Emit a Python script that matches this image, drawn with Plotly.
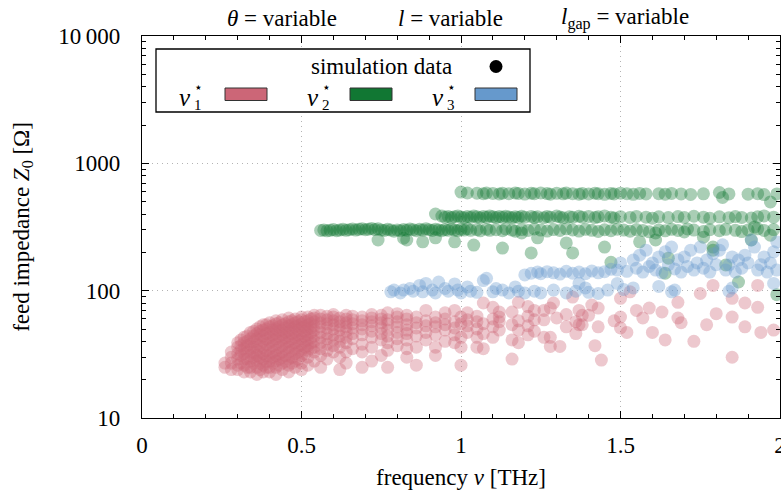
import plotly.graph_objects as go

# ---------------- data ----------------
# nu_1* resonance: frequency [THz] and feed impedance [Ohm]
red_freq = [
    0.26, 0.26,
    0.28, 0.28, 0.28, 0.28,
    0.30, 0.30, 0.30, 0.30, 0.30, 0.30,
    0.32, 0.32, 0.32, 0.32, 0.32, 0.32, 0.32,
    0.34, 0.34, 0.34, 0.34, 0.34, 0.34, 0.34, 0.34,
    0.36, 0.36, 0.36, 0.36, 0.36, 0.36, 0.36, 0.36, 0.36,
    0.38, 0.38, 0.38, 0.38, 0.38, 0.38, 0.38, 0.38, 0.38,
    0.40, 0.40, 0.40, 0.40, 0.40, 0.40, 0.40, 0.40, 0.40, 0.40,
    0.42, 0.42, 0.42, 0.42, 0.42, 0.42, 0.42, 0.42, 0.42, 0.42, 0.42,
    0.44, 0.44, 0.44, 0.44, 0.44, 0.44, 0.44, 0.44, 0.44, 0.44,
    0.46, 0.46, 0.46, 0.46, 0.46, 0.46, 0.46, 0.46, 0.46, 0.46, 0.46,
    0.48, 0.48, 0.48, 0.48, 0.48, 0.48, 0.48, 0.48, 0.48, 0.48,
    0.50, 0.50, 0.50, 0.50, 0.50, 0.50, 0.50, 0.50, 0.50, 0.50, 0.50,
    0.52, 0.52, 0.52, 0.52, 0.52, 0.52, 0.52, 0.52, 0.52, 0.52,
    0.54, 0.54, 0.54, 0.54, 0.54, 0.54, 0.54, 0.54, 0.54, 0.54,
    0.56, 0.56, 0.56, 0.56, 0.56, 0.56, 0.56, 0.56, 0.56, 0.56,
    0.58, 0.58, 0.58, 0.58, 0.58, 0.58, 0.58, 0.58, 0.58,
    0.60, 0.60, 0.60, 0.60, 0.60, 0.60, 0.60, 0.60, 0.60,
    0.62, 0.62, 0.62, 0.62, 0.62, 0.62, 0.62, 0.62, 0.62,
    0.64, 0.64, 0.64, 0.64, 0.64, 0.64, 0.64, 0.64, 0.64,
    0.66, 0.66, 0.66, 0.66, 0.66, 0.66, 0.66,
    0.69, 0.69, 0.69, 0.69, 0.69, 0.69, 0.69, 0.69,
    0.72, 0.72, 0.72, 0.72, 0.72, 0.72, 0.72, 0.72,
    0.75, 0.75, 0.75, 0.75, 0.75, 0.75, 0.75,
    0.77, 0.77, 0.77, 0.77, 0.77, 0.77, 0.77, 0.77,
    0.80, 0.80, 0.80, 0.80, 0.80, 0.80, 0.80,
    0.83, 0.83, 0.83, 0.83, 0.83, 0.83, 0.83, 0.83,
    0.86, 0.86, 0.86, 0.86, 0.86, 0.86,
    0.89, 0.89, 0.89, 0.89, 0.89,
    0.92, 0.92, 0.92, 0.92, 0.92, 0.92,
    0.95, 0.95, 0.95, 0.95, 0.95,
    0.98, 0.98, 0.98, 0.98, 0.98,
    1.00, 1.00, 1.00, 1.00, 1.00,
    1.02, 1.02, 1.02, 1.02,
    1.05, 1.05, 1.05, 1.05, 1.05,
    1.07, 1.07, 1.07, 1.07,
    1.10, 1.10, 1.10, 1.10,
    1.12, 1.12, 1.12, 1.12,
    1.16, 1.16, 1.16, 1.16,
    1.18, 1.18, 1.18, 1.18,
    1.21, 1.21, 1.21, 1.21,
    1.23, 1.23, 1.23,
    1.26, 1.26, 1.26,
    1.28, 1.28, 1.28, 1.29, 1.30, 1.31,
    1.33, 1.33, 1.35, 1.36, 1.36, 1.37, 1.37, 1.38, 1.38,
    1.40, 1.41, 1.42, 1.43, 1.43, 1.44, 1.48,
    1.50, 1.50, 1.50, 1.52, 1.53, 1.55, 1.57, 1.59, 1.60,
    1.63, 1.64, 1.68, 1.68, 1.69, 1.73, 1.75, 1.77, 1.79, 1.80,
    1.85, 1.85, 1.85, 1.89, 1.89, 1.93, 1.93, 1.94, 1.98,
    # dense core, intermediate geometries
    0.31, 0.31, 0.31, 0.31, 0.31,
    0.33, 0.33, 0.33, 0.33, 0.33, 0.33,
    0.35, 0.35, 0.35, 0.35, 0.35, 0.35, 0.35,
    0.37, 0.37, 0.37, 0.37, 0.37, 0.37, 0.37, 0.37, 0.37,
    0.39, 0.39, 0.39, 0.39, 0.39, 0.39, 0.39, 0.39, 0.39,
    0.41, 0.41, 0.41, 0.41, 0.41, 0.41, 0.41, 0.41,
    0.43, 0.43, 0.43, 0.43, 0.43, 0.43, 0.43, 0.43, 0.43,
    0.45, 0.45, 0.45, 0.45, 0.45, 0.45, 0.45, 0.45,
    0.47, 0.47, 0.47, 0.47, 0.47, 0.47, 0.47, 0.47, 0.47,
    0.49, 0.49, 0.49, 0.49, 0.49, 0.49, 0.49, 0.49,
    0.51, 0.51, 0.51, 0.51, 0.51, 0.51, 0.51,
    0.53, 0.53, 0.53, 0.53, 0.53, 0.53, 0.53,
]
red_z = [
    25, 27,
    24, 27, 30, 33,
    24, 26, 29, 32, 36, 39,
    23, 26, 29, 32, 35, 39, 43,
    23, 25, 28, 31, 35, 38, 42, 47,
    22, 25, 28, 31, 34, 38, 42, 46, 50,
    23, 26, 29, 32, 36, 40, 44, 49, 54,
    23, 25, 28, 31, 35, 39, 43, 47, 52, 56,
    22, 25, 28, 31, 34, 38, 42, 46, 50, 55, 58,
    24, 27, 30, 33, 37, 41, 45, 49, 54, 59,
    23, 26, 29, 33, 36, 40, 44, 48, 53, 57, 61,
    25, 28, 32, 35, 39, 43, 47, 52, 56, 60,
    24, 27, 31, 34, 38, 42, 46, 51, 55, 59, 62,
    26, 30, 34, 37, 41, 45, 50, 54, 58, 62,
    28, 33, 36, 40, 44, 49, 53, 57, 61, 64,
    25, 31, 35, 39, 43, 47, 52, 56, 60, 64,
    29, 34, 38, 42, 46, 51, 55, 59, 63,
    33, 37, 41, 45, 50, 54, 58, 62, 65,
    24, 30, 36, 40, 44, 49, 53, 57, 61,
    27, 33, 39, 43, 48, 52, 56, 60, 64,
    35, 42, 46, 51, 55, 59, 63,
    25, 33, 38, 45, 50, 54, 58, 62,
    28, 36, 43, 48, 53, 57, 61, 65,
    31, 41, 46, 51, 56, 60, 64,
    25, 34, 39, 44, 49, 55, 59, 67,
    37, 42, 47, 52, 57, 62, 66,
    30, 35, 41, 46, 49, 54, 60, 64,
    26, 36, 44, 51, 56, 62,
    41, 47, 53, 58, 70,
    31, 36, 45, 52, 56, 62,
    40, 49, 54, 60, 67,
    39, 45, 51, 57, 70,
    26, 36, 43, 55, 62,
    47, 53, 59, 67,
    36, 43, 50, 57, 63,
    35, 46, 55, 80,
    43, 52, 60, 74,
    49, 57, 62, 68,
    29, 41, 54, 68,
    39, 49, 58, 81,
    45, 53, 63, 75,
    48, 59, 70,
    43, 59, 70,
    36.5, 43, 73, 80, 61, 36.5,
    52, 65, 89, 57, 46, 70, 54, 54, 64,
    64, 77, 37, 52, 73, 28.5, 58,
    87, 62, 51, 47, 98, 70, 61, 73, 47,
    68, 41, 81, 61, 56, 40, 95, 54, 110, 66,
    87, 62, 30, 80, 52, 74, 110, 47, 49,
    27, 31, 34, 37, 41,
    25, 29, 33, 37, 40, 44,
    27, 30, 33, 36, 40, 44, 48,
    24, 27, 30, 33, 37, 41, 45, 48, 52,
    25, 28, 31, 34, 38, 42, 46, 50, 54,
    27, 30, 33, 37, 41, 45, 49, 53,
    26, 29, 32, 36, 40, 44, 48, 52, 56,
    28, 31, 35, 39, 43, 47, 51, 55,
    27, 30, 34, 38, 42, 46, 50, 54, 58,
    29, 33, 37, 41, 45, 49, 53, 57,
    32, 36, 40, 44, 48, 52, 57,
    35, 39, 43, 47, 51, 55, 60,
]

# nu_2* resonance
green_freq = [
    # lowest branch
    0.56, 0.57, 0.58, 0.59, 0.60, 0.61, 0.62, 0.63, 0.64, 0.65,
    0.66, 0.67, 0.68, 0.69, 0.70, 0.71, 0.72, 0.73, 0.74, 0.75,
    0.76, 0.77, 0.78, 0.79, 0.80, 0.81, 0.82, 0.83, 0.84, 0.85,
    0.86, 0.87, 0.88, 0.89, 0.90, 0.91, 0.92, 0.93, 0.94, 0.95,
    0.96, 0.97, 0.98, 0.99, 1.00, 1.01, 1.02, 1.03, 1.05, 1.06,
    1.08, 1.09, 1.11, 1.13, 1.14, 1.16, 1.17, 1.19, 1.21, 1.23,
    1.25, 1.27, 1.29, 1.31, 1.33, 1.35, 1.37, 1.39, 1.41, 1.43,
    1.45, 1.47, 1.49, 1.51, 1.53, 1.55, 1.57, 1.59, 1.62, 1.64,
    1.66, 1.68, 1.71, 1.73, 1.76, 1.78, 1.81, 1.83, 1.86, 1.88,
    1.90, 1.93, 1.95, 1.98,
    # scatter below the lowest branch
    0.74, 0.82, 0.83, 0.88, 0.92, 0.98, 1.04, 1.13, 1.19, 1.22,
    1.24, 1.33, 1.35, 1.45, 1.47, 1.56, 1.61, 1.61, 1.64, 1.65,
    1.70, 1.76, 1.79, 1.79, 1.83, 1.87, 1.91, 1.92, 1.97, 1.99,
    # middle branch
    0.92, 0.94, 0.95, 0.96, 0.97, 0.98, 0.99, 1.00, 1.01, 1.02,
    1.03, 1.04, 1.05, 1.06, 1.07, 1.08, 1.09, 1.10, 1.11, 1.12,
    1.13, 1.14, 1.15, 1.16, 1.17, 1.18, 1.19, 1.20, 1.22, 1.23,
    1.24, 1.26, 1.27, 1.28, 1.30, 1.31, 1.32, 1.34, 1.35, 1.37,
    1.38, 1.40, 1.42, 1.43, 1.45, 1.47, 1.48, 1.50, 1.53, 1.55,
    1.58, 1.60, 1.62, 1.65, 1.68, 1.70, 1.73, 1.76, 1.78, 1.81,
    1.84, 1.86, 1.88, 1.91, 1.93, 1.95, 1.98,
    # top branch
    1.00, 1.02, 1.05, 1.07, 1.08, 1.10, 1.12, 1.13, 1.15, 1.17,
    1.18, 1.20, 1.22, 1.23, 1.25, 1.27, 1.28, 1.30, 1.32, 1.33,
    1.35, 1.37, 1.38, 1.40, 1.42, 1.43, 1.45, 1.47, 1.48, 1.50,
    1.52, 1.54, 1.56, 1.58, 1.62, 1.64, 1.66, 1.69, 1.72, 1.76,
    1.81, 1.82, 1.84, 1.90, 1.93, 1.95, 1.97, 1.99,
]
green_z = [
    297, 300, 295, 298, 302, 296, 299, 303, 298, 301,
    305, 299, 303, 307, 301, 304, 308, 302, 306, 300,
    297, 303, 299, 293, 300, 296, 302, 298, 305, 301,
    296, 303, 299, 306, 301, 297, 304, 300, 296, 302,
    298, 305, 300, 296, 303, 299, 306, 298, 302, 295,
    304, 298, 301, 296, 305, 299, 293, 302, 297, 305,
    299, 294, 302, 297, 306, 300, 294, 303, 298, 292,
    301, 296, 304, 299, 293, 302, 297, 290, 300, 295,
    303, 297, 305, 299, 292, 301, 296, 303, 298, 291,
    300, 306, 297, 302,
    250, 258, 250, 242, 260, 242, 228, 216, 284, 198,
    260, 237, 198, 220, 167, 242, 284, 250, 137, 180,
    289, 263, 220, 208, 159, 117, 250, 316, 273, 93,
    400, 385, 378, 383, 375, 381, 386, 379, 374, 382,
    377, 385, 380, 374, 383, 378, 386, 380, 375, 382,
    377, 384, 379, 373, 381, 376, 384, 378, 383, 376,
    381, 374, 383, 378, 385, 379, 373, 381, 377, 384,
    378, 383, 375, 380, 386, 378, 372, 381, 376, 383,
    378, 371, 380, 375, 382, 376, 384, 378, 371, 380,
    374, 382, 376, 372, 380, 386, 378,
    595, 585, 582, 578, 585, 580, 575, 583, 578, 586,
    580, 574, 582, 577, 585, 579, 573, 581, 576, 584,
    578, 572, 580, 575, 583, 577, 571, 580, 575, 583,
    577, 571, 580, 575, 578, 572, 580, 575, 570, 576,
    590, 540, 575, 572, 578, 568, 498, 575,
]

# nu_3* resonance
blue_freq = [
    # lower branch
    0.78, 0.79, 0.81, 0.82, 0.84, 0.85, 0.87, 0.88, 0.89, 0.91,
    0.92, 0.93, 0.95, 0.96, 0.98, 0.99, 1.00, 1.02, 1.03, 1.05,
    1.07, 1.08, 1.10, 1.11, 1.13, 1.15, 1.17, 1.18, 1.20, 1.23,
    1.25, 1.29, 1.33, 1.36, 1.37, 1.39, 1.40, 1.43, 1.46, 1.49,
    1.51, 1.54, 1.62, 1.66, 1.67, 1.84, 1.85, 1.98,
    # upper branch
    1.20, 1.22, 1.24, 1.25, 1.27, 1.29, 1.31, 1.33, 1.35, 1.37,
    1.39, 1.41, 1.43, 1.45, 1.47, 1.49, 1.50, 1.52, 1.54, 1.55,
    1.56, 1.57, 1.58, 1.59, 1.60, 1.61, 1.62, 1.63, 1.64, 1.65,
    1.66, 1.67, 1.68, 1.69, 1.70, 1.71, 1.72, 1.73, 1.74, 1.75,
    1.76, 1.77, 1.78, 1.79, 1.80, 1.81, 1.82, 1.83, 1.84, 1.85,
    1.86, 1.87, 1.88, 1.89, 1.90, 1.91, 1.92, 1.93, 1.94, 1.95,
    1.96, 1.97, 1.98, 1.99, 1.99,
]
blue_z = [
    98, 101, 96, 101, 104, 99, 110, 98, 114, 101,
    96, 117, 104, 99, 113, 101, 96, 107, 99, 97,
    120, 125, 98, 104, 101, 96, 107, 99, 96, 99,
    96, 101, 96, 99, 114, 105, 97, 95, 101, 114,
    102, 105, 108, 98, 101, 99, 105, 114,
    133, 137, 140, 136, 141, 138, 135, 142, 137, 140,
    136, 143, 138, 141, 147, 145, 165, 142, 174, 150,
    190, 140, 208, 155, 165, 145, 184, 138, 202, 160,
    220, 148, 175, 140, 184, 155, 208, 145, 165, 220,
    150, 174, 140, 195, 160, 208, 229, 145, 159, 184,
    140, 174, 150, 190, 165, 250, 220, 145, 160, 184,
    140, 165, 202, 241, 145,
]

series_colors = ["#CC6677", "#117733", "#6699CC"]
x_ticks = [0, 0.5, 1, 1.5, 2]
x_ticktext = ["0", "0.5", "1", "1.5", "2"]
y_ticks = [10, 100, 1000, 10000]
y_ticktext = ["10", "100", "1000", "10\u2009000"]

# ---------------- figure ----------------
W, H = 781, 491
L, R, T, B = 142, 1, 36, 73
PW, PH = W - L - R, H - T - B
FONT = "Liberation Serif"
FS = 23


def px(xp):
    return (xp - L) / PW


def py(yp):
    return (H - B - yp) / PH


fig = go.Figure()
for f, z, col in zip([red_freq, green_freq, blue_freq],
                     [red_z, green_z, blue_z], series_colors):
    fig.add_trace(go.Scatter(
        x=f, y=z, mode="markers", showlegend=False,
        marker=dict(size=13, color=col, opacity=0.36, line=dict(width=0)),
    ))

axis_common = dict(
    showline=True, linecolor="black", linewidth=1.3, mirror="ticks",
    ticks="inside", tickcolor="black", tickwidth=1, ticklen=7,
    showgrid=True, gridcolor="#b4b4b4", griddash="1px,4px", gridwidth=1.2,
    zeroline=False, tickfont=dict(family=FONT, size=FS, color="black"),
    ticklabeloverflow="allow", automargin=False,
)

fig.update_xaxes(
    range=[0, 2], tickvals=x_ticks, ticktext=x_ticktext,
    minor=dict(ticks="inside", ticklen=4, dtick=0.1, tickcolor="black", showgrid=False),
    title=dict(text="frequency <i>ν</i> [THz]", font=dict(family=FONT, size=FS, color="black"),
               standoff=12),
    ticklabelstandoff=6,
    **axis_common,
)
fig.update_yaxes(
    type="log", range=[1, 4], tickvals=y_ticks, ticktext=y_ticktext,
    minor=dict(ticks="inside", ticklen=4, dtick="D1", tickcolor="black", showgrid=False),
    title=dict(text="feed impedance <i>Z</i><sub>0</sub> [Ω]",
               font=dict(family=FONT, size=FS, color="black"), standoff=22),
    ticklabelstandoff=16,
    **axis_common,
)

shapes = []
annotations = []

# legend frame
shapes.append(dict(type="rect", xref="paper", yref="paper",
                   x0=px(156), x1=px(530), y0=py(112), y1=py(49),
                   line=dict(color="black", width=1.3), fillcolor="white", layer="above"))
annotations.append(dict(text="simulation data", xref="paper", yref="paper",
                        x=px(454), y=py(66), xanchor="right", yanchor="middle",
                        showarrow=False, font=dict(family=FONT, size=FS, color="black")))
shapes.append(dict(type="circle", xref="paper", yref="paper",
                   x0=px(489.5), x1=px(502.5), y0=py(73), y1=py(60),
                   line=dict(width=0), fillcolor="black", layer="above"))

legend_items = [(186, 225, "1"), (314, 350, "2"), (439, 475, "3")]
for (nx, rx, sub), col in zip(legend_items, series_colors):
    annotations.append(dict(text="<i>ν</i>", xref="paper", yref="paper",
                            x=px(nx + 6), y=py(97), xanchor="right", yanchor="middle",
                            borderpad=0, showarrow=False,
                            font=dict(family=FONT, size=25, color="black")))
    annotations.append(dict(text="⋆", xref="paper", yref="paper",
                            x=px(nx + 7), y=py(87), xanchor="left", yanchor="middle",
                            borderpad=0, showarrow=False,
                            font=dict(family="DejaVu Sans", size=14, color="black")))
    annotations.append(dict(text=sub, xref="paper", yref="paper",
                            x=px(nx + 7), y=py(105), xanchor="left", yanchor="middle",
                            borderpad=0, showarrow=False,
                            font=dict(family=FONT, size=15, color="black")))
    shapes.append(dict(type="rect", xref="paper", yref="paper",
                       x0=px(rx), x1=px(rx + 42), y0=py(100.5), y1=py(88),
                       line=dict(color="#333333", width=1), fillcolor=col, layer="above"))

# header line with the swept parameters
header = [(282, "<i>θ</i> = variable"), (450, "<i>l</i> = variable"),
          (625, "<i>l</i><sub>gap</sub> = variable")]
for hx, txt in header:
    annotations.append(dict(text=txt, xref="paper", yref="paper",
                            x=px(hx), y=py(18), xanchor="center", yanchor="middle",
                            showarrow=False, font=dict(family=FONT, size=FS, color="black")))

fig.update_layout(
    width=W, height=H,
    margin=dict(l=L, r=R, t=T, b=B, pad=0),
    plot_bgcolor="white", paper_bgcolor="white",
    shapes=shapes, annotations=annotations,
    showlegend=False,
)

fig.write_html("out.html")
